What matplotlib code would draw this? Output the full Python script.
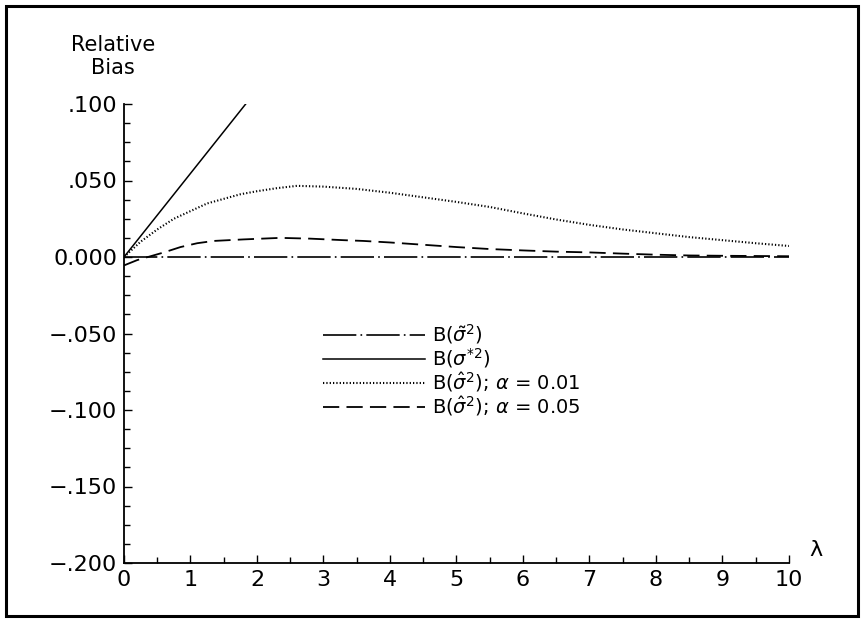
import matplotlib
matplotlib.use("Agg")
import matplotlib.pyplot as plt
from matplotlib.lines import Line2D
from matplotlib.patches import Rectangle
from matplotlib.ticker import MultipleLocator, FixedLocator

plt.rcParams['font.family'] = ['DejaVu Sans']
plt.rcParams['mathtext.fontset'] = 'dejavusans'

# data
lam_tilde = [0, 10]
bias_tilde = [0.0, 0.0]

lam_star = [0, 1.83]
bias_star = [0.0, 0.100]

lam_01 = [0, 0.25, 0.5, 0.75, 1.0, 1.25, 1.5, 1.75, 2.0, 2.3, 2.6, 3.0, 3.5,
          4.0, 4.5, 5.0, 5.5, 6.0, 6.5, 7.0, 7.5, 8.0, 8.5, 9.0, 9.5, 10.0]
bias_01 = [0.0, 0.010, 0.018, 0.025, 0.030, 0.035, 0.038, 0.041, 0.043, 0.045,
           0.0465, 0.046, 0.0445, 0.042, 0.039, 0.036, 0.0327, 0.0285, 0.0245,
           0.021, 0.018, 0.0155, 0.013, 0.011, 0.009, 0.0072]

lam_05 = [0, 0.2, 0.4, 0.6, 0.85, 1.1, 1.35, 1.8, 2.35, 2.8, 3.3, 3.6, 4.0,
          4.5, 5.0, 5.5, 6.0, 6.5, 7.0, 7.5, 8.0, 8.5, 9.0, 10.0]
bias_05 = [-0.0055, -0.002, 0.0005, 0.003, 0.0065, 0.009, 0.0105, 0.0115,
           0.0125, 0.012, 0.011, 0.0105, 0.0095, 0.008, 0.0065, 0.0052, 0.0043,
           0.0035, 0.003, 0.0022, 0.0015, 0.001, 0.0008, 0.0005]

y_ticks = [0.100, 0.050, 0.0, -0.050, -0.100, -0.150, -0.200]
y_labels = ['.100', '.050', '0.000', '\u2212.050', '\u2212.100', '\u2212.150', '\u2212.200']
x_ticks = list(range(11))

legend_labels = [r'B($\tilde{\sigma}^2$)', r'B($\sigma^{*2}$)',
                 r'B($\hat{\sigma}^2$); $\alpha$ = 0.01',
                 r'B($\hat{\sigma}^2$); $\alpha$ = 0.05']

W, H = 862, 619
fig = plt.figure(figsize=(W / 100, H / 100), dpi=100)
ax = fig.add_axes([124 / W, 56 / H, 665 / W, 459 / H])

styles = [(0, (20, 2.5, 1, 2.5)), 'solid', (0, (0.6, 1.0)), (0, (9, 4))]
widths = [1.2, 1.1, 1.5, 1.3]

series = [(lam_tilde, bias_tilde), (lam_star, bias_star),
          (lam_01, bias_01), (lam_05, bias_05)]
for (xs, ys), ls, lw in zip(series, styles, widths):
    ax.plot(xs, ys, color='black', lw=lw, linestyle=ls)

ax.set_xlim(0, 10)
ax.set_ylim(-0.200, 0.100)
ax.spines['top'].set_visible(False)
ax.spines['right'].set_visible(False)
ax.spines['left'].set_linewidth(1.3)
ax.spines['bottom'].set_linewidth(1.3)

ax.xaxis.set_major_locator(FixedLocator(x_ticks))
ax.xaxis.set_minor_locator(MultipleLocator(0.5))
ax.set_xticklabels([str(t) for t in x_ticks])
ax.yaxis.set_major_locator(FixedLocator(y_ticks))
ax.yaxis.set_minor_locator(MultipleLocator(0.0125))
ax.set_yticklabels(y_labels)
ax.tick_params(which='major', direction='in', length=6, width=1.0,
               labelsize=16, pad=5)
ax.tick_params(which='minor', direction='in', length=4, width=1.0)

fig.text(113 / W, 1 - 45 / H, 'Relative', ha='center', va='center', fontsize=15)
fig.text(113 / W, 1 - 68 / H, 'Bias', ha='center', va='center', fontsize=15)
fig.text(816 / W, 1 - 550 / H, '\u03bb', ha='center', va='center', fontsize=16)

# legend drawn by hand to match the tight row spacing of the original
rows_y = [335, 359, 383, 407]
for ls, lw, label, ry in zip(styles, widths, legend_labels, rows_y):
    fig.add_artist(Line2D([323 / W, 425 / W], [1 - ry / H, 1 - ry / H],
                          transform=fig.transFigure, color='black',
                          lw=lw, linestyle=ls))
    fig.text(432 / W, 1 - (ry + 6) / H, label, ha='left', va='baseline',
             fontsize=14)

fig.add_artist(Rectangle((6 / W, 3 / H), 852 / W, 610 / H, fill=False,
                         edgecolor='black', lw=2.2, transform=fig.transFigure))

fig.savefig('out.png', dpi=100)
